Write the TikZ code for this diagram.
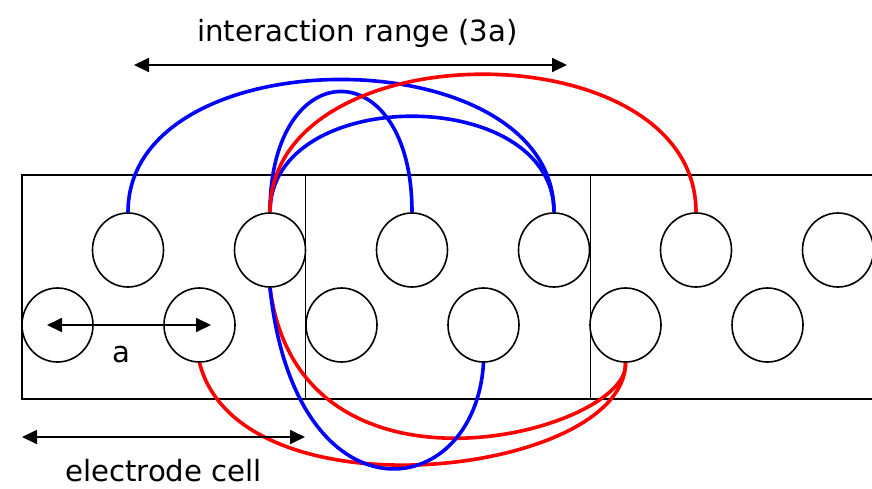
\documentclass[tikz,border=0pt]{standalone}
\usepackage{fontspec}
\setmainfont{DejaVu Sans}
\usetikzlibrary{shapes.geometric,arrows.meta}
\begin{document}
\begin{tikzpicture}[x=1pt,y=-1pt,
  site/.style={draw,ellipse,line width=1.6pt,minimum width=71pt,minimum height=74pt,inner sep=0pt},
  frame/.style={line width=1.5pt},
  dim/.style={line width=1.8pt,{Triangle[length=15pt,width=14pt]}-{Triangle[length=15pt,width=14pt]}},
  blueline/.style={draw=blue,line width=3.6pt},
  redline/.style={draw=red,line width=3.6pt},
  lbl/.style={font=\fontsize{29.2}{34}\selectfont,anchor=base,inner sep=0pt}]
\useasboundingbox (0,0) rectangle (872,488);
% electrode frame
\draw[frame] (880,175) -- (22,175) -- (22,399) -- (880,399);
\draw[frame] (305.5,175) -- (305.5,399);
\draw[frame] (590.5,175) -- (590.5,399);
% sites
\foreach \i/\x in {0/128,1/270,2/412,3/554,4/696,5/838}
  \node[site] (T\i) at (\x,250) {};
\foreach \i/\x in {0/57.5,1/199.5,2/341.5,3/483.5,4/625.5,5/767.5}
  \node[site] (B\i) at (\x,325) {};
% interactions above
\draw[blueline] (T0.north) .. controls +(0,-177) and +(0,-177) .. (T3.north);
\draw[blueline] (T1.north) .. controls +(0,-161) and +(0,-161) .. (T2.north);
\draw[blueline] (T1.north) .. controls +(0,-128) and +(0,-128) .. (T3.north);
\draw[redline] (T1.north) .. controls +(0,-184) and +(0,-184) .. (T4.north);
% interactions below
\draw[redline] (B1.south) .. controls +(40.5,158) and +(-0.5,113) .. (B4.south);
\draw[redline] (T1.south) .. controls +(30,233) and +(6.5,68) .. (B4.south);
\draw[blueline] (T1.south) .. controls +(25,238) and +(-8.5,143) .. (B3.south);
% dimensions
\coordinate (a1) at (47,325);
\coordinate (a2) at (211,325);
\draw[dim] (a1) -- (a2);
\node[lbl] (alabel) at (121,362) {a};
\coordinate (e1) at (22,437);
\coordinate (e2) at (305,437);
\draw[dim] (e1) -- (e2);
\node[lbl] (elabel) at (163.5,481) {electrode cell};
\coordinate (r1) at (134,65);
\coordinate (r2) at (567,65);
\draw[dim] (r1) -- (r2);
\node[lbl] (rlabel) at (357.5,41) {interaction range (3a)};
\end{tikzpicture}
\end{document}
